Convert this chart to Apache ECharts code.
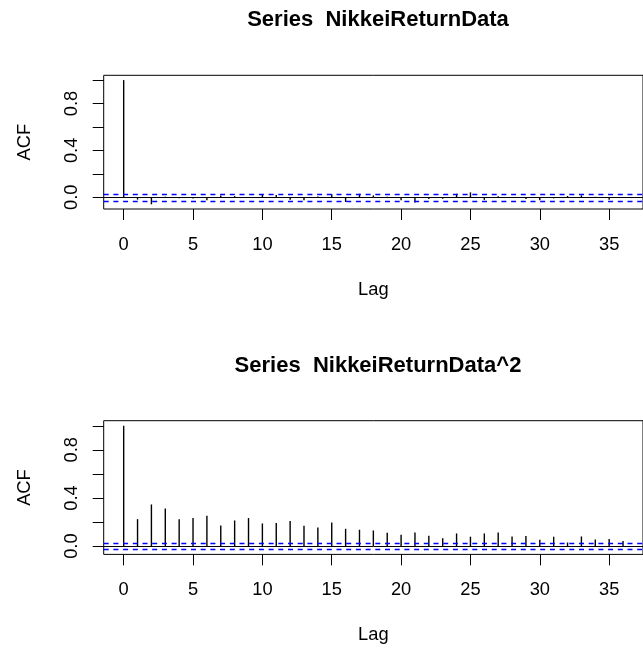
<!DOCTYPE html>
<html>
<head>
<meta charset="utf-8">
<script src="https://cdn.jsdelivr.net/npm/echarts@6/dist/echarts.min.js"></script>
<style>
    html, body { margin: 0; padding: 0; background: #fff; }
    #chart { width: 643px; height: 650px; }
</style>
</head>
<body>
<div id="chart"></div>
<script>
    // lags 0..36
    var lags = [];
    for (var i = 0; i <= 36; i++) lags.push(i);

    // acf of returns
    var acfReturn = [1.0, -0.02, -0.06, 0.005, -0.008, -0.01, -0.025, 0.015, 0.01, -0.005,
        0.028, 0.02, -0.02, -0.025, 0.006, 0.025, -0.04, 0.03, 0.016, 0.004,
        -0.025, -0.045, -0.014, -0.013, 0.03, 0.042, -0.022, 0.009, 0.003, -0.014,
        -0.025, -0.009, 0.011, 0.016, 0.005, -0.02, -0.006];

    // acf of squared returns
    var acfSquared = [1.0, 0.224, 0.346, 0.313, 0.224, 0.233, 0.252, 0.172, 0.213, 0.233,
        0.188, 0.191, 0.208, 0.169, 0.155, 0.197, 0.144, 0.136, 0.130, 0.111,
        0.094, 0.114, 0.086, 0.066, 0.105, 0.078, 0.105, 0.114, 0.080, 0.083,
        0.053, 0.078, 0.030, 0.080, 0.055, 0.058, 0.042];

    var confLimit = 0.028;
    var titles = ['Series  NikkeiReturnData', 'Series  NikkeiReturnData^2'];
    var xTicks = [0, 5, 10, 15, 20, 25, 30, 35];
    var yTicks = [0, 0.2, 0.4, 0.6, 0.8, 1.0];
    var yLabels = [0, 0.4, 0.8];

    var FONT = 'Liberation Sans';
    var panelTop = [75.3, 420.7];
    var yRange = [[-0.1, 1.041], [-0.069, 1.042]];

    var myChart = echarts.init(document.getElementById('chart'), null, {renderer: 'canvas'});

    function pairs(vals) {
        return lags.map(function (l, k) { return [l, vals[k]]; });
    }

    // horizontal reference line across the whole grid at a given y value
    function hLine(stroke, width, dash) {
        return function (params, api) {
            var cs = params.coordSys;
            var y = Math.round(api.coord([0, api.value(0)])[1]) + 0.5;
            return {
                type: 'line',
                shape: {x1: cs.x, y1: y, x2: cs.x + cs.width, y2: y},
                style: {stroke: stroke, lineWidth: width, lineDash: dash}
            };
        };
    }

    var option = {
        animation: false,
        backgroundColor: '#fff',
        title: [],
        grid: [],
        xAxis: [],
        yAxis: [],
        series: []
    };

    [acfReturn, acfSquared].forEach(function (vals, p) {
        option.title.push({
            text: titles[p],
            left: 378,
            top: panelTop[p] - 66,
            padding: 0,
            textAlign: 'center',
            textStyle: {fontFamily: FONT, fontSize: 22, fontWeight: 'bold', color: '#000'}
        });
        option.grid.push({
            left: 103.7, top: panelTop[p], width: 547.1, height: 133.7,
            show: true, borderColor: '#000', borderWidth: 1, backgroundColor: 'transparent'
        });
        option.xAxis.push({
            type: 'value', gridIndex: p, min: -1.44, max: 37.44,
            name: 'Lag', nameLocation: 'middle', nameGap: 72,
            nameTextStyle: {fontFamily: FONT, fontSize: 18.3, color: '#000'},
            axisLine: {show: false, onZero: false},
            splitLine: {show: false},
            axisTick: {show: true, length: 11, customValues: xTicks, lineStyle: {color: '#000', width: 1}},
            axisLabel: {customValues: xTicks, margin: 27, fontFamily: FONT, fontSize: 18.3, color: '#000'}
        });
        option.yAxis.push({
            type: 'value', gridIndex: p, min: yRange[p][0], max: yRange[p][1],
            name: 'ACF', nameLocation: 'middle', nameGap: 70,
            nameTextStyle: {fontFamily: FONT, fontSize: 18.3, color: '#000'},
            axisLine: {show: false, onZero: false},
            splitLine: {show: false},
            axisTick: {show: true, length: 11, customValues: yTicks, lineStyle: {color: '#000', width: 1}},
            axisLabel: {
                customValues: yLabels, rotate: 90, margin: 23,
                fontFamily: FONT, fontSize: 18.3, color: '#000',
                formatter: function (v) { return v.toFixed(1); }
            }
        });
        // zero line
        option.series.push({
            type: 'custom', xAxisIndex: p, yAxisIndex: p, silent: true,
            data: [[0]],
            renderItem: hLine('#000', 1, null)
        });
        // acf spikes
        option.series.push({
            type: 'custom',
            xAxisIndex: p, yAxisIndex: p,
            data: pairs(vals),
            renderItem: function (params, api) {
                var a = api.coord([api.value(0), 0]);
                var b = api.coord([api.value(0), api.value(1)]);
                return {
                    type: 'line',
                    shape: {x1: a[0], y1: a[1], x2: b[0], y2: b[1]},
                    style: {stroke: '#000', lineWidth: 1.4}
                };
            }
        });
        // confidence bounds (blue dashed)
        option.series.push({
            type: 'custom', xAxisIndex: p, yAxisIndex: p, silent: true,
            data: [[confLimit], [-confLimit]],
            renderItem: hLine('#0000ff', 1.3, [5, 4.7])
        });
    });

    myChart.setOption(option);
</script>
</body>
</html>
